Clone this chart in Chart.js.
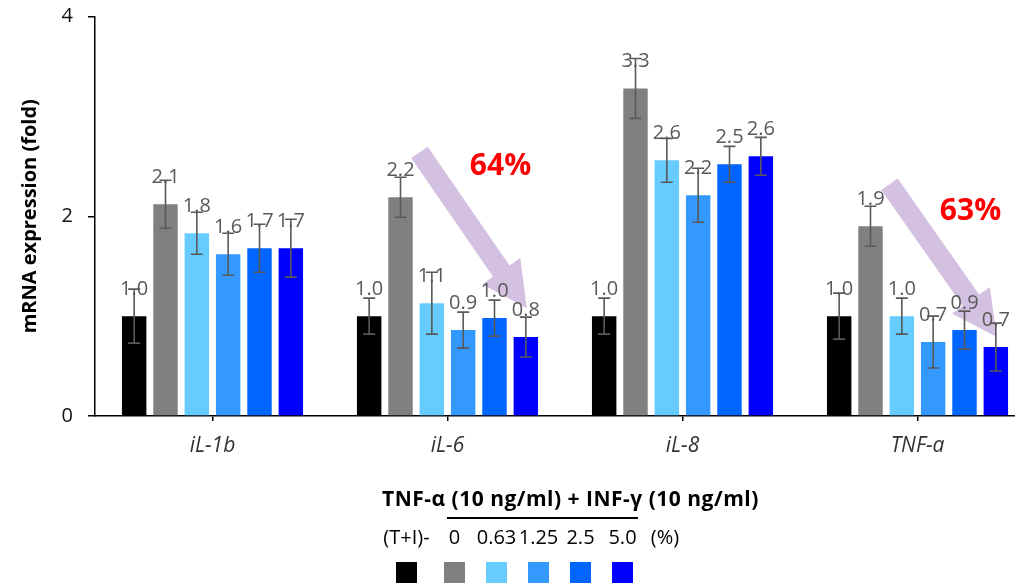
<!DOCTYPE html>
<html lang="en">
<head>
<meta charset="UTF-8">
<title>mRNA expression</title>
<script src="https://cdn.jsdelivr.net/npm/chart.js"></script>
<style>
  html, body { margin: 0; padding: 0; background: #fff; overflow: hidden; }
  #wrap { position: relative; width: 1040px; height: 600px; }
</style>
</head>
<body>
<div id="wrap"><canvas id="expressionChart"></canvas></div>

<script>
const genes = ["iL-1b", "iL-6", "iL-8", "TNF-a"];
const doseLabels = ["(T+I)-", "0", "0.63", "1.25", "2.5", "5.0"];
const doseColors = ["#000000", "#808080", "#66CCFF", "#3399FF", "#0066FF", "#0000FF"];

// fold change, one array per treatment (same order as genes)
const ctrlValues    = [1.0, 1.0, 1.0, 1.0];
const dose0Values   = [2.12, 2.19, 3.28, 1.9];
const dose063Values = [1.83, 1.13, 2.56, 1.0];
const dose125Values = [1.62, 0.86, 2.21, 0.74];
const dose25Values  = [1.68, 0.98, 2.52, 0.86];
const dose50Values  = [1.68, 0.79, 2.6, 0.69];

// error bars (+/-)
const ctrlErr    = [0.27, 0.18, 0.18, 0.23];
const dose0Err   = [0.24, 0.2, 0.3, 0.2];
const dose063Err = [0.21, 0.31, 0.22, 0.18];
const dose125Err = [0.21, 0.18, 0.27, 0.26];
const dose25Err  = [0.24, 0.18, 0.18, 0.19];
const dose50Err  = [0.29, 0.2, 0.19, 0.24];

// reduction noted above the arrows
const reductionLabels = ["", "64%", "", "63%"];

const allValues = [ctrlValues, dose0Values, dose063Values, dose125Values, dose25Values, dose50Values];
const allErrors = [ctrlErr, dose0Err, dose063Err, dose125Err, dose25Err, dose50Err];

const FONT = "'Open Sans', 'Noto Sans', sans-serif";

// arrows: from the gray bar down to the 5.0 bar (value units)
const arrowSpots = { 1: { from: 2.64, to: 1.08, label: 2.5 }, 3: { from: 2.32, to: 0.79, label: 2.05 } };

function drawArrow(ctx, x1, y1, x2, y2) {
  const ang = Math.atan2(y2 - y1, x2 - x1);
  const len = Math.hypot(x2 - x1, y2 - y1);
  const shaft = 10, head = 23, headLen = 45;
  ctx.save();
  ctx.translate(x1, y1);
  ctx.rotate(ang);
  ctx.beginPath();
  ctx.moveTo(0, -shaft);
  ctx.lineTo(len - headLen, -shaft);
  ctx.lineTo(len - headLen, -head);
  ctx.lineTo(len, 0);
  ctx.lineTo(len - headLen, head);
  ctx.lineTo(len - headLen, shaft);
  ctx.lineTo(0, shaft);
  ctx.closePath();
  ctx.fillStyle = "#D4C0E1";
  ctx.fill();
  ctx.restore();
}

const extrasPlugin = {
  id: "extras",
  afterDatasetsDraw(chart) {
    const ctx = chart.ctx;
    const y = chart.scales.y;

    // arrows + reduction text
    Object.keys(arrowSpots).forEach(k => {
      const g = +k, s = arrowSpots[k];
      const grayBar = chart.getDatasetMeta(1).data[g];
      const lastBar = chart.getDatasetMeta(5).data[g];
      const midBar = chart.getDatasetMeta(4).data[g];
      drawArrow(ctx, grayBar.x + 19, y.getPixelForValue(s.from), lastBar.x + 1, y.getPixelForValue(s.to));
      ctx.save();
      ctx.font = "bold 30px " + FONT;
      ctx.fillStyle = "#FF0000";
      ctx.textAlign = "center";
      ctx.textBaseline = "middle";
      ctx.fillText(reductionLabels[g], midBar.x + 6, y.getPixelForValue(s.label));
      ctx.restore();
    });

    // error bars and value labels
    chart.data.datasets.forEach((ds, i) => {
      const meta = chart.getDatasetMeta(i);
      meta.data.forEach((bar, j) => {
        const v = allValues[i][j], e = allErrors[i][j];
        const top = y.getPixelForValue(v + e), bot = y.getPixelForValue(v - e);
        ctx.save();
        ctx.strokeStyle = "#595959";
        ctx.lineWidth = 1.6;
        ctx.beginPath();
        ctx.moveTo(bar.x, top); ctx.lineTo(bar.x, bot);
        ctx.moveTo(bar.x - 6, top); ctx.lineTo(bar.x + 6, top);
        ctx.moveTo(bar.x - 6, bot); ctx.lineTo(bar.x + 6, bot);
        ctx.stroke();
        ctx.font = "20px " + FONT;
        ctx.fillStyle = "#595959";
        ctx.textAlign = "center";
        ctx.textBaseline = "alphabetic";
        ctx.fillText(v.toFixed(1), bar.x, y.getPixelForValue(v) - 21);
        ctx.restore();
      });
    });
  },
  afterDraw(chart) {
    // treatment caption above the legend boxes
    const ctx = chart.ctx;
    const hb = chart.legend.legendHitBoxes;
    if (!hb || !hb.length) return;
    const boxTop = chart.legend.top + 15;
    ctx.save();
    ctx.fillStyle = "#000";
    ctx.textBaseline = "middle";
    ctx.font = "bold 21px " + FONT;
    ctx.letterSpacing = "0.5px";
    ctx.textAlign = "left";
    ctx.fillText("TNF-\u03b1 (10 ng/ml) + INF-\u03b3 (10 ng/ml)", hb[0].left - 14, boxTop - 62);
    ctx.letterSpacing = "0px";
    ctx.strokeStyle = "#000";
    ctx.lineWidth = 2;
    ctx.beginPath();
    ctx.moveTo(hb[1].left + 3, boxTop - 44);
    ctx.lineTo(hb[5].left + 26, boxTop - 44);
    ctx.stroke();
    ctx.font = "20px " + FONT;
    ctx.textAlign = "center";
    doseLabels.forEach((t, i) => ctx.fillText(t, hb[i].left + 10.5, boxTop - 24));
    ctx.fillText("(%)", hb[5].left + 53, boxTop - 24);
    ctx.restore();
  }
};

new Chart(document.getElementById("expressionChart"), {
  type: "bar",
  data: {
    labels: genes,
    datasets: allValues.map((vals, i) => ({
      label: doseLabels[i],
      data: vals,
      backgroundColor: doseColors[i],
      categoryPercentage: 0.8,
      barPercentage: 0.78
    }))
  },
  plugins: [extrasPlugin],
  options: {
    responsive: true,
    maintainAspectRatio: false,
    animation: false,
    layout: { padding: { left: 0, right: 5, top: 0, bottom: 7 } },
    plugins: {
      tooltip: { enabled: false },
      legend: {
        position: "bottom",
        labels: {
          boxWidth: 21,
          boxHeight: 21,
          padding: 15,
          font: { size: 12 },
          generateLabels: chart => chart.data.datasets.map((ds, i) => ({
            text: i === 0 ? "\u2002" : "",
            fillStyle: ds.backgroundColor,
            strokeStyle: ds.backgroundColor,
            lineWidth: 0,
            datasetIndex: i
          }))
        }
      }
    },
    scales: {
      x: {
        grid: { display: true, drawOnChartArea: false, offset: false, tickLength: 5, color: "#000", lineWidth: 1.5 },
        border: { color: "#000", width: 1.5 },
        ticks: { color: "#333", padding: 12, font: { family: FONT, size: 21, style: "italic" } },
        afterFit: s => { s.height = 131; }
      },
      y: {
        min: 0,
        max: 4,
        ticks: { stepSize: 2, color: "#111", padding: 15, font: { family: FONT, size: 20 } },
        grid: { display: true, drawOnChartArea: false, tickLength: 7, color: "#000", lineWidth: 1.5 },
        border: { color: "#000", width: 1.5 },
        title: {
          display: true,
          text: "mRNA expression (fold)",
          color: "#000",
          padding: { top: 18, bottom: 0 },
          font: { family: FONT, size: 20, weight: "bold" }
        },
        afterFit: s => { s.width = 95; s.paddingTop = 16.5; s.paddingBottom = 0; }
      }
    }
  }
});
</script>
</body>
</html>
